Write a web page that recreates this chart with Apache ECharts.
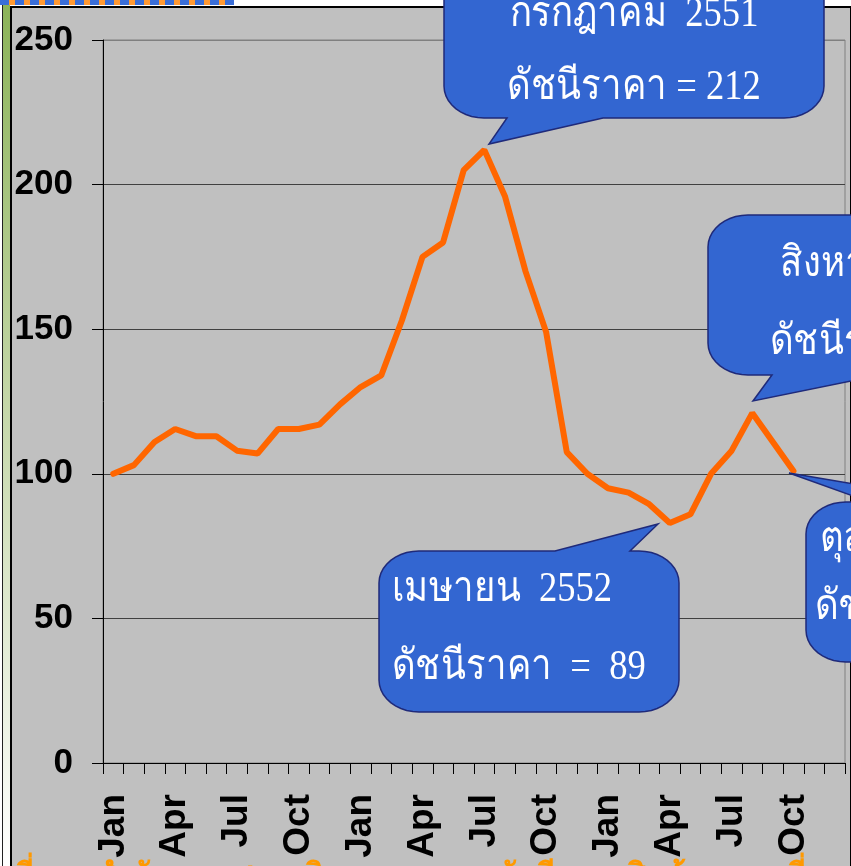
<!DOCTYPE html>
<html>
<head>
<meta charset="utf-8">
<script src="https://cdn.jsdelivr.net/npm/echarts@6/dist/echarts.min.js"></script>
<style>
  html, body { margin: 0; padding: 0; background: #fff; }
  .wrap { position: relative; width: 851px; height: 866px; overflow: hidden; }
  .frame { position: absolute; left: 10px; top: 6px; width: 838px; height: 880px;
           border-left: 2px solid #000; border-top: 2px solid #000; border-right: 2px solid #000;
           background: #c0c0c0; }
  .edge { position: absolute; left: 2px; top: 4px; width: 1px; height: 862px; background: #222; }
  .green { position: absolute; left: 3px; top: 4px; width: 7px; height: 862px;
           background: linear-gradient(#8cb359 0%, #c3d6a6 45%, #ffffff 100%); }
  .head { position: absolute; left: 0; top: 0; width: 234px; height: 5px;
          background: repeating-linear-gradient(90deg, #3a6ed8 0 9px, #ff9933 9px 15px); }
  #chart { position: absolute; left: 0; top: 0; width: 851px; height: 866px; }
</style>
</head>
<body>
<div class="wrap">
  <div class="edge"></div>
  <div class="green"></div>
  <div class="head"></div>
  <div class="frame"></div>
  <div id="chart"></div>
</div>
<script>
  // months Jan 2550 .. Dec 2552
  var months = ['Jan','Feb','Mar','Apr','May','Jun','Jul','Aug','Sep','Oct','Nov','Dec',
                'Jan','Feb','Mar','Apr','May','Jun','Jul','Aug','Sep','Oct','Nov','Dec',
                'Jan','Feb','Mar','Apr','May','Jun','Jul','Aug','Sep','Oct','Nov','Dec'];
  // ดัชนีราคา (ค่าที่อ่านจากกราฟ)
  var priceIndex = [100, 103, 111, 115.5, 113, 113, 108, 107, 115.5, 115.5, 117, 124,
                    130, 134, 153, 175, 180, 205, 212, 196, 170, 149, 107.5, 100,
                    95, 93.5, 89.5, 83, 86, 100, 108, 121, 111, 101];
  var yTicks = [0, 50, 100, 150, 200, 250];

  var calloutFill = '#3366d1'
  var calloutLine = '#1f2a7a'
  var thaiFont = '"Liberation Serif", "Noto Sans", serif'

  // rounded box + wedge as one polygon
  function calloutPoints(x, y, w, h, rx, ry, tail) {
    var pts = []
    function arc(cx, cy, a0, a1) {
      for (var k = 0; k <= 10; k++) {
        var a = (a0 + (a1 - a0) * k / 10) * Math.PI / 180
        pts.push([cx + rx * Math.cos(a), cy + ry * Math.sin(a)])
      }
    }
    arc(x + rx, y + ry, 180, 270)
    if (tail.edge === 'top') {
      pts.push([tail.a, y]); pts.push(tail.tip); pts.push([tail.b, y])
    }
    arc(x + w - rx, y + ry, 270, 360)
    arc(x + w - rx, y + h - ry, 0, 90)
    if (tail.edge === 'bottom') {
      pts.push([tail.b, y + h]); pts.push(tail.tip); pts.push([tail.a, y + h])
    }
    arc(x + rx, y + h - ry, 90, 180)
    return pts
  }

  function callout(box, tail, lines) {
    var els = [{
      type: 'polygon',
      z: 100,
      shape: {points: calloutPoints(box[0], box[1], box[2], box[3], 40, 32, tail)},
      style: {fill: calloutFill, stroke: calloutLine, lineWidth: 1.5}
    }]
    lines.forEach(function (l) {
      els.push({
        type: 'text', z: 101,
        scaleX: 0.87, originX: l.x, originY: l.y,
        style: {
          text: l.text, x: l.x, y: l.y, fill: '#fff',
          fontSize: 42, fontFamily: thaiFont,
          textAlign: l.align || 'left', textVerticalAlign: 'middle'
        }
      })
    })
    return els
  }

  var graphics = []
    .concat(callout([444, -80, 380, 198], {edge: 'bottom', a: 507, b: 603, tip: [489, 144]},
      [{text: 'กรกฎาคม  2551', x: 634, y: 15, align: 'center'},
       {text: 'ดัชนีราคา = 212', x: 634, y: 88, align: 'center'}]))
    .concat(callout([708, 215, 320, 160], {edge: 'bottom', a: 772, b: 880, tip: [753, 401]},
      [{text: 'สิงหาคม  2552', x: 780, y: 265},
       {text: 'ดัชนีราคา = 121', x: 770, y: 343}]))
    .concat(callout([806, 502, 300, 160], {edge: 'top', a: 870, b: 960, tip: [789, 473]},
      [{text: 'ตุลาคม  2552', x: 820, y: 540},
       {text: 'ดัชนีราคา = 101', x: 815, y: 608}]))
    .concat(callout([379, 551, 300, 161], {edge: 'top', a: 555, b: 630, tip: [658, 524]},
      [{text: 'เมษายน  2552', x: 392, y: 590},
       {text: 'ดัชนีราคา  =  89', x: 392, y: 668}]))
    .concat([{
      type: 'text', z: 5,
      style: {text: 'ที่มา : สำนักงานเศรษฐกิจการเกษตร   ดัชนีราคาสินค้าเกษตรที่เกษตรกรขายได้',
              x: 14, y: 861, fill: '#ff9900', fontSize: 30, fontWeight: 'bold',
              fontFamily: thaiFont, textVerticalAlign: 'top'}
    }])

  var chart = echarts.init(document.getElementById('chart'))
  chart.setOption({
    animation: false,
    backgroundColor: 'transparent',
    grid: {
      left: 103, right: 6, top: 40, bottom: 103,
      show: true, borderColor: '#808080', borderWidth: 1, backgroundColor: '#c0c0c0'
    },
    xAxis: {
      type: 'category',
      data: months,
      boundaryGap: true,
      axisLine: {lineStyle: {color: '#000', width: 1}},
      axisTick: {show: true, interval: 0, length: 11, lineStyle: {color: '#000'}},
      axisLabel: {
        interval: 2, rotate: 90, margin: 31,
        color: '#000', fontSize: 37, fontWeight: 'bold',
        fontFamily: '"Liberation Sans", Arial, sans-serif'
      },
      splitLine: {show: false}
    },
    yAxis: {
      type: 'value',
      min: yTicks[0], max: yTicks[yTicks.length - 1], interval: 50,
      axisLine: {show: true, lineStyle: {color: '#000', width: 1}},
      axisTick: {show: true, length: 11, lineStyle: {color: '#000'}},
      axisLabel: {
        margin: 30, color: '#000', fontSize: 35, fontWeight: 'bold',
        fontFamily: '"Liberation Sans", Arial, sans-serif'
      },
      splitLine: {lineStyle: {color: ['#404040', '#404040', '#404040', '#404040', '#404040', '#808080']}}
    },
    series: [{
      type: 'line',
      data: priceIndex,
      showSymbol: false,
      lineStyle: {color: '#ff6600', width: 6, cap: 'round'}
    }],
    graphic: graphics
  })
</script>
</body>
</html>
